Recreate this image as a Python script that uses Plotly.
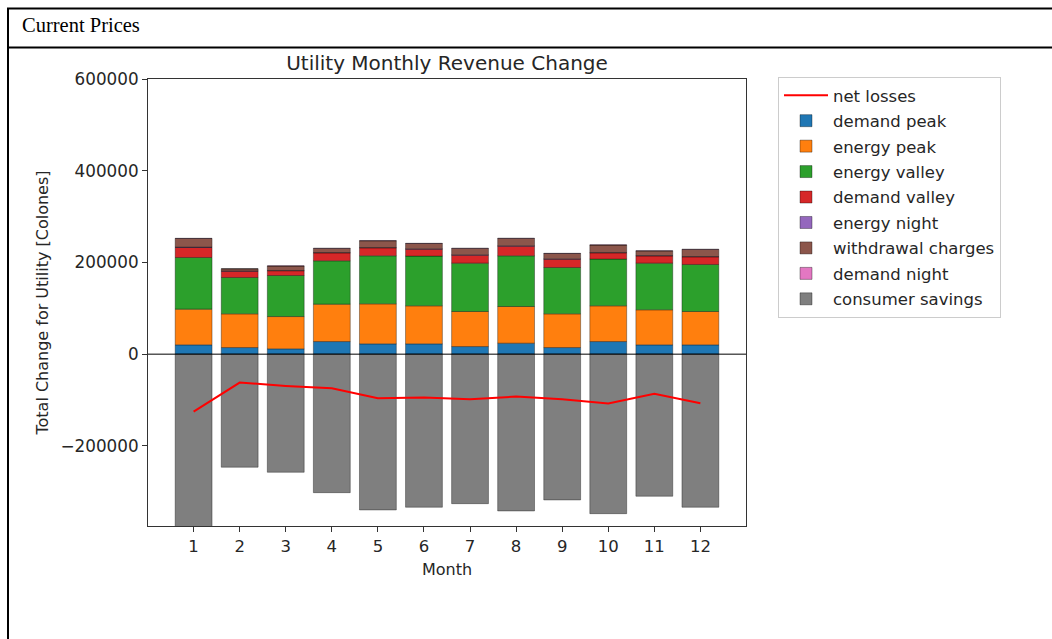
import plotly.graph_objects as go

# Monthly revenue change components for the utility (Colones)
months = [1, 2, 3, 4, 5, 6, 7, 8, 9, 10, 11, 12]

demand_peak = [20300, 14400, 11600, 27500, 22500, 22500, 16600, 24000, 14400, 27500, 20300, 20300]
energy_peak = [77900, 73500, 70400, 81500, 87200, 82900, 76400, 79900, 73500, 77900, 76400, 72700]
energy_valley = [112600, 79300, 89500, 94600, 104800, 108400, 105500, 110600, 101100, 101900, 101800, 102600]
demand_valley = [21800, 13700, 10400, 17300, 17300, 15100, 17400, 21000, 18100, 13600, 15800, 16600]
energy_night = [800, 600, 600, 700, 800, 800, 700, 800, 700, 800, 700, 700]
withdrawal_charges = [18800, 4500, 9700, 8900, 14600, 11600, 13900, 16000, 11700, 16200, 10200, 15400]
demand_night = [500, 400, 400, 500, 500, 500, 500, 500, 500, 500, 400, 500]
consumer_savings = [-378000, -246500, -257500, -302000, -339700, -333800, -326000, -341900, -317900, -347800, -309800, -333800]
net_losses = [-125200, -62000, -69200, -74200, -96000, -94700, -98200, -92500, -98200, -107800, -86600, -106900]

y_ticks = [-200000, 0, 200000, 400000, 600000]

series = [
    ("demand peak", demand_peak, "#1f77b4"),
    ("energy peak", energy_peak, "#ff7f0e"),
    ("energy valley", energy_valley, "#2ca02c"),
    ("demand valley", demand_valley, "#d62728"),
    ("energy night", energy_night, "#9467bd"),
    ("withdrawal charges", withdrawal_charges, "#8c564b"),
    ("demand night", demand_night, "#e377c2"),
    ("consumer savings", consumer_savings, "#7f7f7f"),
]

W, H = 1052, 639
L, R, T, B = 148, 746, 79, 526  # plot area in pixels

def px(x):
    return (x - L) / (R - L)

def py(y):
    return (B - y) / (B - T)

FONT = "DejaVu Sans"
TXT = "#262626"

fig = go.Figure()

# the line trace comes first so it heads the legend; scatter is drawn above bars
fig.add_trace(go.Scatter(
    x=months, y=net_losses, mode="lines", name="net losses",
    line=dict(color="#ff0000", width=2), legendgroup="a",
))

for i, (name, vals, color) in enumerate(series):
    fig.add_trace(go.Bar(
        x=months, y=vals, name=name, width=0.8,
        marker=dict(color=color, line=dict(color="rgba(0,0,0,0.35)", width=1)),
        legendgroup=f"g{i}",
    ))

fig.update_layout(
    width=W, height=H,
    margin=dict(l=L, r=W - R, t=T, b=H - B),
    paper_bgcolor="white", plot_bgcolor="white",
    barmode="relative", bargap=0.2,
    font=dict(family=FONT, size=16, color=TXT),
    title=dict(text="Utility Monthly Revenue Change", x=px(447), xref="paper",
               xanchor="center", y=1 - 63 / H, yanchor="middle",
               font=dict(size=20, color=TXT)),
    legend=dict(
        x=px(778), y=py(77), xanchor="left", yanchor="top",
        bgcolor="white", bordercolor="#cccccc", borderwidth=1,
        traceorder="grouped", tracegroupgap=1, itemwidth=44,
        font=dict(size=16.5, color=TXT),
    ),
    showlegend=True,
    xaxis=dict(
        range=[0.01, 12.99], tickvals=months, ticktext=[str(m) for m in months],
        showline=True, mirror=True, linecolor="#333333", linewidth=1,
        ticks="outside", ticklen=5, tickcolor="#333333",
        showgrid=False, zeroline=False, tickfont=dict(size=16.5),
        title=dict(text="Month", standoff=9, font=dict(size=16)),
    ),
    yaxis=dict(
        range=[-374700, 600000], tickvals=y_ticks, tickformat="d",
        showline=True, mirror=True, linecolor="#333333", linewidth=1,
        ticks="outside", ticklen=5, tickcolor="#333333",
        showgrid=False, zeroline=False, tickfont=dict(size=16.8),
        title=dict(text="Total Change for Utility [Colones]", standoff=7, font=dict(size=16)),
    ),
)

# horizontal line at zero across the axes
fig.add_shape(type="line", xref="paper", yref="y", x0=0, x1=1, y0=0, y1=0,
              line=dict(color="black", width=1), layer="above")

# document table frame around the chart
frame = dict(color="black", width=2)
fig.add_shape(type="line", xref="paper", yref="paper", x0=px(7), x1=px(1052),
              y0=py(8.5), y1=py(8.5), line=frame, layer="above")
fig.add_shape(type="line", xref="paper", yref="paper", x0=px(7), x1=px(1052),
              y0=py(47.5), y1=py(47.5), line=frame, layer="above")
fig.add_shape(type="line", xref="paper", yref="paper", x0=px(8), x1=px(8),
              y0=py(8), y1=py(639), line=frame, layer="above")

fig.add_annotation(
    text="Current Prices", xref="paper", yref="paper", x=px(20), y=py(25),
    xanchor="left", yanchor="middle", showarrow=False,
    font=dict(family="Liberation Serif", size=20.5, color="black"),
)

fig.write_html("out.html")
